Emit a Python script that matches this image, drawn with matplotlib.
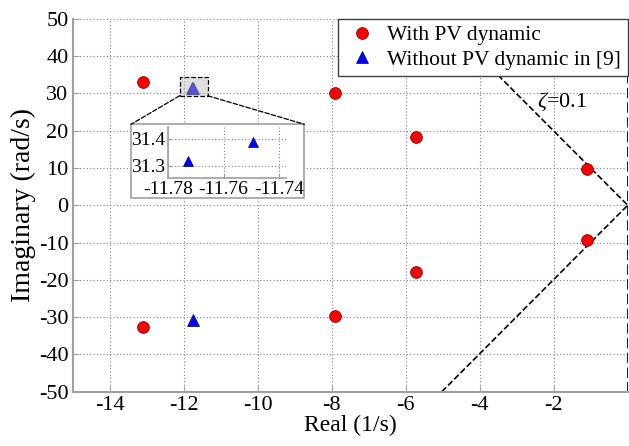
import numpy as np
import matplotlib
matplotlib.use("Agg")
import matplotlib.pyplot as plt
from matplotlib.patches import Rectangle, ConnectionPatch

plt.rcParams['font.family'] = ['Liberation Serif', 'DejaVu Serif']
plt.rcParams['mathtext.fontset'] = 'custom'
plt.rcParams['mathtext.rm'] = 'Liberation Serif'
plt.rcParams['mathtext.it'] = 'Liberation Serif:italic'
plt.rcParams['axes.unicode_minus'] = False

# poles with PV dynamic
with_pv_re = [-13.1, -13.1, -7.9, -7.9, -5.72, -5.72, -1.1, -1.1]
with_pv_im = [33.0, -32.6, 30.0, -29.7, 18.3, -17.8, 9.8, -9.4]

# poles without PV dynamic (ref [9])
without_pv_re = [-11.773, -11.7495, -11.76]
without_pv_im = [31.319, 31.3875, -30.9]

zeta = 0.1
xticks = [-14, -12, -10, -8, -6, -4, -2]
yticks = [-50, -40, -30, -20, -10, 0, 10, 20, 30, 40, 50]
inset_xticks = [-11.78, -11.76, -11.74]
inset_yticks = [31.3, 31.4]

gray = '#a0a0a0'
grid_kw = dict(color='#808080', linestyle=(0, (1, 2)), linewidth=0.8)

fig = plt.figure(figsize=(6.29, 4.46), dpi=100)
ax = fig.add_axes([0.1156, 0.1217, 0.8824, 0.8363])

ax.set_xlim(-15, 0)
ax.set_ylim(-50, 50)
ax.set_xticks(xticks)
ax.set_yticks(yticks)
ax.tick_params(direction='in', labelsize=16, color=gray, length=4, pad=3)
for s in ['top', 'right']:
    ax.spines[s].set_visible(False)
for s in ['left', 'bottom']:
    ax.spines[s].set_color(gray)
    ax.spines[s].set_linewidth(1.5)
ax.grid(True, **grid_kw)
ax.set_axisbelow(True)

# damping ratio lines
slope = np.sqrt(1 - zeta**2) / zeta
xl = np.array([-50 / slope, 0])
ax.plot(xl, -slope * xl, 'k--', lw=1.2, zorder=2)
ax.plot(xl, slope * xl, 'k--', lw=1.2, zorder=2)
ax.axvline(0, color='k', ls='--', lw=2, zorder=2)
ax.text(-2.45, 27.7, r'$\zeta$=0.1', fontsize=16, va='center', ha='left')

ax.plot(with_pv_re, with_pv_im, 'o', color='red', mec='#600000', mew=0.5,
        ms=8.5, ls='none', label='With PV dynamic', zorder=3)
ax.plot(without_pv_re, without_pv_im, '^', color='blue', mec='#000060', mew=0.5,
        ms=8, ls='none', label='Without PV dynamic in [9]', zorder=3)

ax.set_xlabel('Real (1/s)', fontsize=17, labelpad=0)
ax.set_ylabel('Imaginary (rad/s)', fontsize=20, labelpad=2)

leg = ax.legend(loc='upper right', borderaxespad=0, fontsize=15.5, fancybox=False,
                framealpha=1, edgecolor='#404040', handletextpad=0.4,
                borderpad=0.3, labelspacing=0.2, handlelength=1.6)
leg.get_frame().set_linewidth(1.0)
leg.set_zorder(6)

# highlighted zoom region around the upper triangles
cx = np.mean(without_pv_re[:2])
cy = np.mean(without_pv_im[:2])
bx0, bx1 = cx - 0.35, cx + 0.41
by0, by1 = cy - 2.0, cy + 2.9
ax.add_patch(Rectangle((bx0, by0), bx1 - bx0, by1 - by0, facecolor='#b8b8b8',
                       alpha=0.45, edgecolor='none', zorder=4))
ax.add_patch(Rectangle((bx0, by0), bx1 - bx0, by1 - by0, facecolor='none',
                       edgecolor='k', ls='--', lw=0.9, zorder=4))

# inset frame and axes
frame = [0.2083, 0.5554, 0.2755, 0.1659]
fig.add_artist(Rectangle((frame[0], frame[1]), frame[2], frame[3],
                         transform=fig.transFigure, facecolor='white',
                         edgecolor=gray, lw=1.2, zorder=3))
for fx, bx in [(frame[0], bx0), (frame[0] + frame[2], bx1)]:
    fig.add_artist(ConnectionPatch((bx, by0), (fx, frame[1] + frame[3]),
                                   coordsA=ax.transData, coordsB=fig.transFigure,
                                   color='k', ls='--', lw=0.9, zorder=3))

axi = fig.add_axes([0.2676, 0.6002, 0.1866, 0.1157], zorder=5)
axi.patch.set_alpha(0)
axi.set_xlim(-11.78, -11.7376)
axi.set_ylim(31.2525, 31.446)
axi.set_xticks(inset_xticks)
axi.set_yticks(inset_yticks)
axi.set_xticklabels(['%.2f' % v for v in inset_xticks])
axi.tick_params(direction='in', labelsize=14, color=gray, length=3, pad=2)
for s in ['top', 'right']:
    axi.spines[s].set_visible(False)
for s in ['left', 'bottom']:
    axi.spines[s].set_color(gray)
    axi.spines[s].set_linewidth(1.2)
axi.grid(True, **grid_kw)
axi.plot(without_pv_re[:2], without_pv_im[:2], '^', color='blue', mec='#000060',
         mew=0.5, ms=7, ls='none', clip_on=False)

fig.savefig('out.png', dpi=100)
